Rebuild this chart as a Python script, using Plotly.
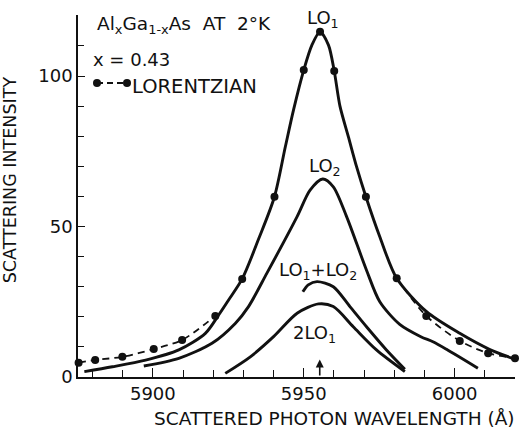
import plotly.graph_objects as go

# ---- data ----
lo1_x = [5877.3, 5886.6, 5897.6, 5908.6, 5917.4, 5921.8, 5925.1, 5929.6, 5935.1, 5940.3, 5943.9, 5946.6,
         5950.0, 5952.7, 5955.4, 5958.2, 5960.1, 5962.0, 5964.8, 5967.5, 5970.6, 5975.2, 5980.8,
         5990.7, 6001.7, 6011.5, 6019.2]
lo1_y = [1.8, 3.4, 5.6, 9.0, 14.5, 20.6, 25.6, 32.6, 46.0, 59.9, 76.5, 88.7,
         102.0, 110.3, 114.7, 110.3, 101.7, 90.0, 79.8, 69.9, 59.9, 46.6, 32.8,
         21.7, 14.5, 9.2, 6.2]

lor_x = [5875.4, 5880.9, 5889.9, 5900.3, 5909.7, 5920.7, 5929.6, 5940.3, 5950.0, 5955.4,
         5960.1, 5970.6, 5980.8, 5990.6, 6001.7, 6011.1, 6020.0]
lor_y = [4.75, 5.65, 6.7, 9.3, 12.3, 20.3, 32.6, 59.9, 102.0, 114.7,
         101.7, 59.9, 32.8, 20.3, 12.0, 7.9, 6.2]

lo2_x = [5897.0, 5908.6, 5919.6, 5927.3, 5931.7, 5937.8, 5947.8, 5952.1, 5956.3, 5959.8, 5964.2,
         5970.8, 5975.2, 5981.8, 5988.8, 5992.8, 5997.3, 6007.7]
lo2_y = [3.65, 6.2, 11.2, 17.8, 23.4, 34.5, 53.3, 62.1, 65.8, 63.2, 53.3,
         35.5, 25.0, 17.5, 13.4, 11.7, 9.2, 2.9]

sum_x = [5949.7, 5951.5, 5954.4, 5959.8, 5965.3, 5970.8, 5977.4, 5983.5]
sum_y = [28.3, 30.6, 31.7, 30.0, 23.4, 16.7, 9.0, 2.6]

two_x = [5924.0, 5932.3, 5940.0, 5947.8, 5954.9, 5959.8, 5966.4, 5974.1, 5983.5]
two_y = [1.2, 6.7, 13.4, 21.2, 24.3, 23.4, 16.7, 9.0, 1.8]

x_ticks = [5900, 5950, 6000]
y_ticks = [0, 50, 100]
arrow_x = 5955.3

FONT = "DejaVu Sans"
BLACK = "#111111"

fig = go.Figure()

# dashed Lorentzian: visible only where it separates from the LO1 curve (wings)
left_n, right_n = 6, 12
for seg_x, seg_y in [(lor_x[:left_n], lor_y[:left_n]), (lor_x[right_n:], lor_y[right_n:])]:
    fig.add_trace(go.Scatter(x=seg_x, y=seg_y, mode="lines",
                             line=dict(color=BLACK, width=1.8, dash="7px,5px", shape="spline", smoothing=0.8),
                             cliponaxis=False, showlegend=False))

for xs, ys in [(lo1_x, lo1_y), (lo2_x, lo2_y), (sum_x, sum_y), (two_x, two_y)]:
    fig.add_trace(go.Scatter(x=xs, y=ys, mode="lines",
                             line=dict(color=BLACK, width=2.9, shape="spline", smoothing=0.8),
                             cliponaxis=False, showlegend=False))

fig.add_trace(go.Scatter(x=lor_x, y=lor_y, mode="markers",
                         marker=dict(size=8, color=BLACK), cliponaxis=False, showlegend=False))

ann = []
def label(x, y, text, size=18, xanchor="center", xref="x", yref="y"):
    ann.append(dict(x=x, y=y, xref=xref, yref=yref, text=text, showarrow=False,
                    xanchor=xanchor, yanchor="middle", font=dict(family=FONT, size=size, color=BLACK)))

label(5956.4, 119.0, "LO<sub>1</sub>")
label(5957.1, 69.8, "LO<sub>2</sub>")
label(5954.8, 35.2, "LO<sub>1</sub>+LO<sub>2</sub>")
label(5953.5, 14.3, "2LO<sub>1</sub>")

def px2paper(px, py):
    return (px - 78) / 437.0, (377 - py) / 362.0

hx, hy = px2paper(95, 25)
label(hx, hy, "Al<sub>x</sub>Ga<sub>1-x</sub>As  AT  2°K", size=18.5, xanchor="left", xref="paper", yref="paper")
hx, hy = px2paper(91, 59)
label(hx, hy, "x = 0.43", size=18, xanchor="left", xref="paper", yref="paper")
hx, hy = px2paper(130, 86)
label(hx, hy, "LORENTZIAN", size=19.5, xanchor="left", xref="paper", yref="paper")

ann.append(dict(x=(334 - 78) / 437.0, y=-0.115, xref="paper", yref="paper",
                text="SCATTERED PHOTON WAVELENGTH (Å)", showarrow=False,
                xanchor="center", yanchor="middle", font=dict(family=FONT, size=18.5, color=BLACK)))
ann.append(dict(x=-0.155, y=(377 - 180) / 362.0, xref="paper", yref="paper",
                text="SCATTERING INTENSITY", showarrow=False, textangle=-90,
                xanchor="center", yanchor="middle", font=dict(family=FONT, size=17.5, color=BLACK)))

ann.append(dict(x=arrow_x, y=5.8, ax=arrow_x, ay=0.0, xref="x", yref="y", axref="x", ayref="y",
                text="", showarrow=True, arrowhead=2, arrowsize=1.0, arrowwidth=1.6, arrowcolor=BLACK))

lx0, ly = px2paper(97, 83)
lx1, _ = px2paper(127, 83)
shapes = [dict(type="line", xref="paper", yref="paper", x0=lx0, x1=lx1, y0=ly, y1=ly,
               line=dict(color=BLACK, width=1.8, dash="6px,4px"))]
for cx in (lx0, lx1):
    shapes.append(dict(type="circle", xref="paper", yref="paper", xsizemode="pixel", ysizemode="pixel",
                       xanchor=cx, yanchor=ly, x0=-4, x1=4, y0=-4, y1=4,
                       fillcolor=BLACK, line=dict(color=BLACK, width=0)))

fig.update_layout(
    width=526, height=428,
    margin=dict(l=78, r=11, t=15, b=51),
    paper_bgcolor="white", plot_bgcolor="white",
    annotations=ann, shapes=shapes,
    font=dict(family=FONT, color=BLACK),
    xaxis=dict(range=[5875.2, 6020.0], showgrid=False, zeroline=False,
               showline=True, linecolor=BLACK, linewidth=1.5,
               tickmode="array", tickvals=x_ticks, ticks="inside", ticklen=9, tickwidth=1.3,
               tickcolor=BLACK, tickfont=dict(family=FONT, size=18, color=BLACK),
               minor=dict(dtick=10, tick0=5880, ticks="inside", ticklen=7, tickwidth=1.3, tickcolor=BLACK)),
    yaxis=dict(range=[0, 120.3], showgrid=False, zeroline=False,
               showline=True, linecolor=BLACK, linewidth=1.5,
               tickmode="array", tickvals=y_ticks, ticks="inside", ticklen=7, tickwidth=1.3,
               tickcolor=BLACK, tickfont=dict(family=FONT, size=18, color=BLACK),
               minor=dict(dtick=10, tick0=0, ticks="inside", ticklen=6, tickwidth=1.3, tickcolor=BLACK)),
)

fig.write_html("out.html")
